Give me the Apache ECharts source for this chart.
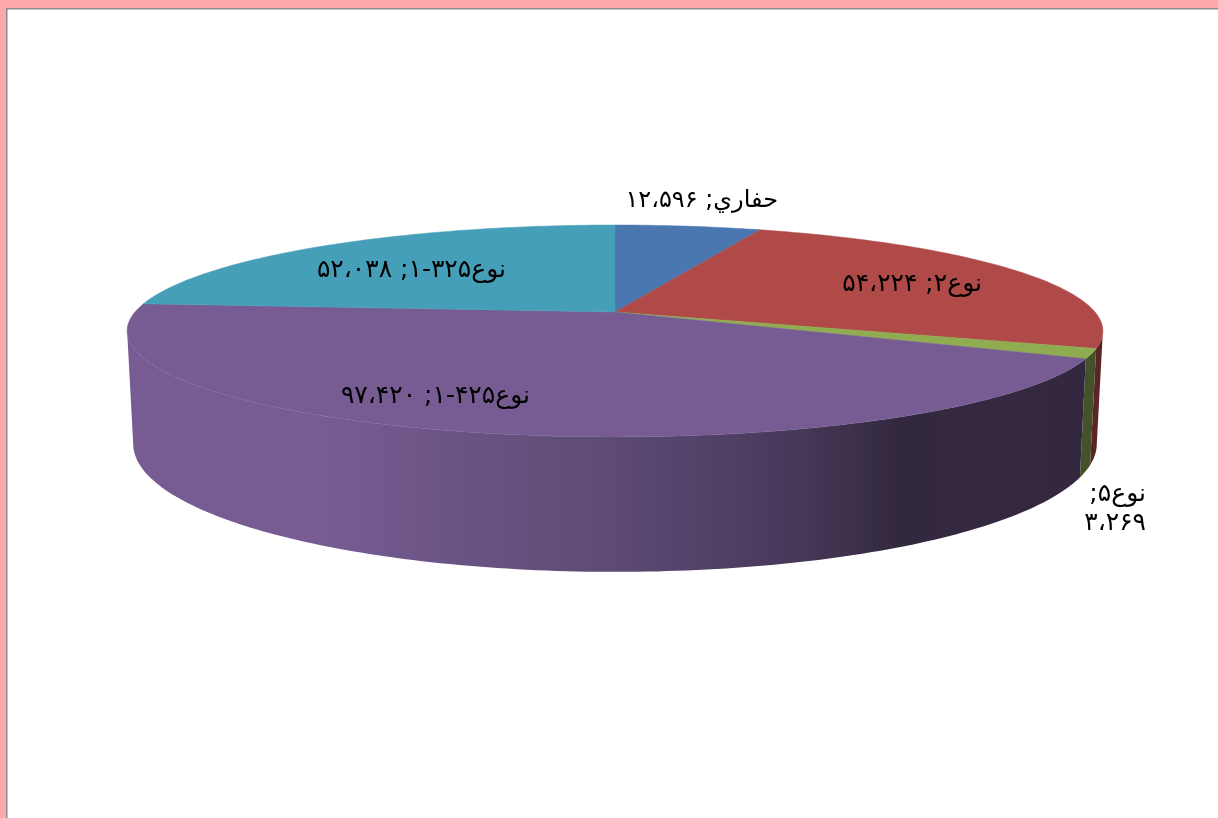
<!DOCTYPE html>
<html>
<head>
<meta charset="utf-8">
<style>html,body{margin:0;padding:0;background:#fff}#c{width:1218px;height:818px}</style>
<script src="https://cdn.jsdelivr.net/npm/echarts@6/dist/echarts.min.js"></script>
</head>
<body>
<div id="c"></div>
<script>
const categories = ['حفاري', 'نوع۲', 'نوع۵', 'نوع۴۲۵-۱', 'نوع۳۲۵-۱'];
const valueTexts = ['۱۲،۵۹۶', '۵۴،۲۲۴', '۳،۲۶۹', '۹۷،۴۲۰', '۵۲،۰۳۸'];
const values = [12596, 54224, 3269, 97420, 52038];
const topColors = ['#4A77AF', '#AF4A48', '#8FAD50', '#775C93', '#469FB8'];
const sideColors = ['#2C4668', '#5A2524', '#43522A', null, '#26566A'];
const purpleShade = [[0, '#775C93'], [0.2, '#775C93'], [0.51, '#5C4A74'], [0.70, '#463859'], [0.80, '#33293F'], [1, '#332840']];
const labelPlaces = [[778, 201], [982, 284], [1146, 480], [530, 396], [506, 270]];
const labelSizes = [24, 25, 25, 25, 25];

const CX = 615, K = 0.179;
const TOP = {A: 480, a: -46.7, b: 312};
const BOT = {A: 474, a: -48.5, b: 421};
const total = values.reduce((s, v) => s + v, 0);
let acc = 0;
const spans = values.map(v => { const s = acc; acc += v; return [s / total * 360, acc / total * 360]; });

function proj(p, deg) {
  const t = deg * Math.PI / 180, X = Math.sin(t), Y = Math.cos(t), d = 1 + K * Y;
  return [CX + p.A * X / d, (p.a * Y + p.b) / d];
}
function arc(p, s, e) {
  const n = Math.max(2, Math.ceil(Math.abs(e - s))), pts = [];
  for (let i = 0; i <= n; i++) pts.push(proj(p, s + (e - s) * i / n));
  return pts;
}
const visS = Math.acos(-K) * 180 / Math.PI, visE = 360 - visS;

const option = {
  animation: false,
  graphic: [
    {type: 'rect', shape: {x: 0, y: 0, width: 1218, height: 8}, style: {fill: '#FDA9A9'}, silent: true},
    {type: 'rect', shape: {x: 0, y: 0, width: 6, height: 818}, style: {fill: '#FDA9A9'}, silent: true},
    {type: 'rect', shape: {x: 6, y: 8, width: 1212, height: 1.5}, style: {fill: '#8C8C8C'}, silent: true},
    {type: 'rect', shape: {x: 6, y: 8, width: 1.5, height: 810}, style: {fill: '#8C8C8C'}, silent: true}
  ],
  series: [
    {
      type: 'custom', coordinateSystem: 'none', silent: true, z: 1,
      data: spans.map((s, i) => ({name: categories[i], value: [s[0], s[1], i]})),
      renderItem(params, api) {
        const i = api.value(2);
        const s = Math.max(api.value(0), visS), e = Math.min(api.value(1), visE);
        if (e <= s) return {type: 'group', children: []};
        const pts = arc(TOP, s, e).concat(arc(BOT, s, e).reverse());
        const fill = sideColors[i] || new echarts.graphic.LinearGradient(127, 0, 1090, 0,
          purpleShade.map(c => ({offset: c[0], color: c[1]})), true);
        return {type: 'polygon', shape: {points: pts}, style: {fill: fill}};
      }
    },
    {
      type: 'custom', coordinateSystem: 'none', silent: true, z: 2,
      data: spans.map((s, i) => ({name: categories[i], value: [s[0], s[1], i]})),
      renderItem(params, api) {
        const i = api.value(2);
        const pts = [[CX, TOP.b]].concat(arc(TOP, api.value(0), api.value(1)));
        return {type: 'polygon', shape: {points: pts}, style: {fill: topColors[i], stroke: topColors[i], lineWidth: 0.5}};
      }
    },
    {
      type: 'custom', coordinateSystem: 'none', silent: true, z: 3,
      data: categories.map((c, i) => ({name: c, value: [i]})),
      renderItem(params, api) {
        const i = api.value(0);
        const text = (i === 2 ? '\u202B' + categories[i] + ';\n\u202B' + valueTexts[i]
                              : '\u202B' + categories[i] + '; ' + valueTexts[i] + '\u202C');
        return {
          type: 'text', x: labelPlaces[i][0], y: labelPlaces[i][1],
          style: {text: text, fill: '#000', align: 'right', verticalAlign: i === 2 ? 'top' : 'middle',
            font: labelSizes[i] + 'px "DejaVu Sans", "Liberation Serif", serif', lineHeight: 29}
        };
      }
    }
  ]
};
const chart = echarts.init(document.getElementById('c'), null, {renderer: 'canvas'});
chart.setOption(option);
</script>
</body>
</html>
